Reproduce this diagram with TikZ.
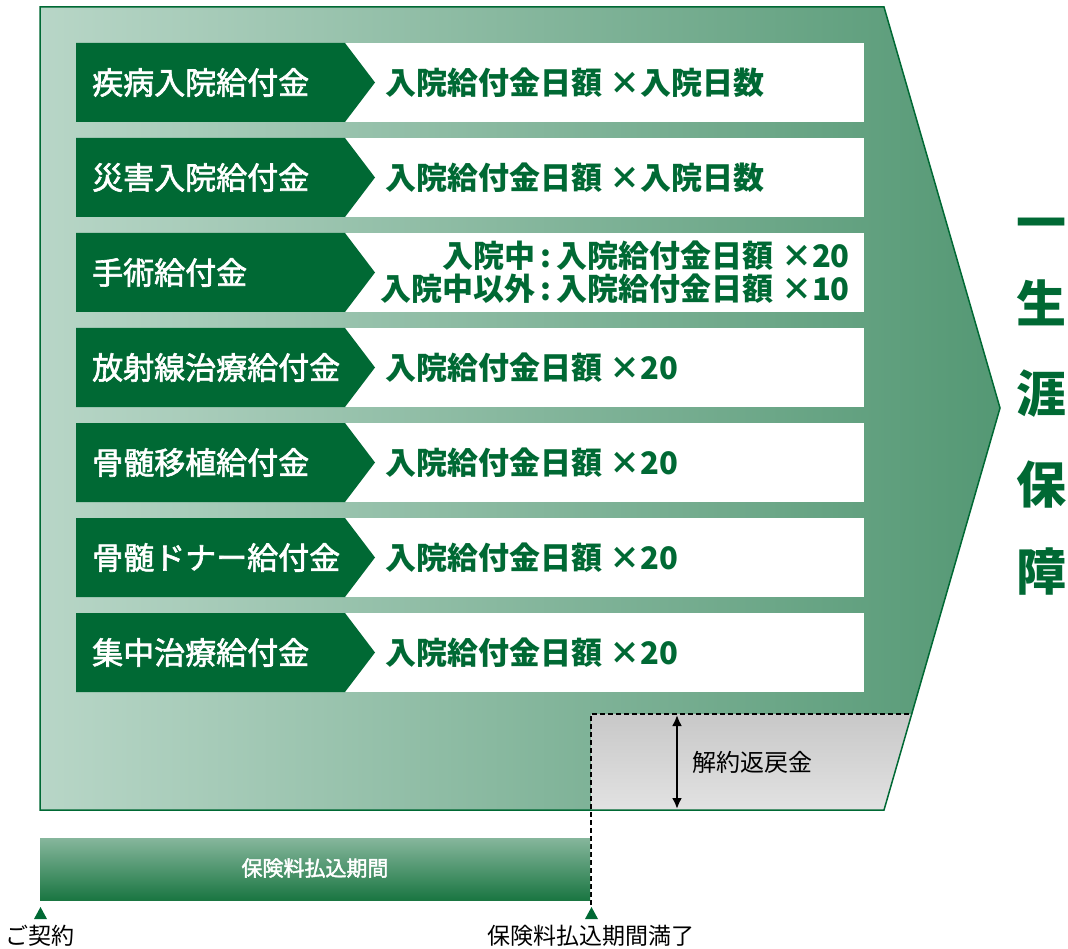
\documentclass[tikz,border=0pt]{standalone}
\usepackage{fontspec}
\setmainfont{Noto Sans CJK JP}
\newfontfamily\lblfont[FakeBold=2]{Noto Sans CJK JP}
\usetikzlibrary{arrows.meta}
\definecolor{dg}{RGB}{0,105,52}
\definecolor{gl}{RGB}{184,214,199}
\definecolor{gr}{RGB}{84,152,116}
\definecolor{gy1}{RGB}{200,200,200}
\definecolor{gy2}{RGB}{226,226,226}
\definecolor{bartop}{RGB}{134,182,156}
\definecolor{barbot}{RGB}{26,118,66}
\tikzset{
  lbl/.style={anchor=west,inner sep=0pt,text=white,font=\lblfont\fontsize{31}{33}\selectfont},
  val/.style={anchor=west,inner sep=0pt,text=dg,font=\bfseries\fontsize{31}{33}\selectfont},
  vert/.style={inner sep=0pt,text=dg,font=\bfseries\fontsize{50}{50}\selectfont},
  small/.style={inner sep=0pt,text=black,font=\fontsize{23}{25}\selectfont},
  tri/.style={fill=dg},
}
\begin{document}
\begin{tikzpicture}[x=1pt,y=-1pt]
\useasboundingbox (0,0) rectangle (1068,949);
% big arrow shape
\shade[left color=gl,right color=gr] (40,7) -- (884,7) -- (1000,408) -- (884,810) -- (40,810) -- cycle;
% grey surrender value area
\shade[top color=gy1,bottom color=gy2] (591,714) -- (912,714) -- (884,810) -- (591,810) -- cycle;
\draw[dg,line width=1.5pt] (40,7) -- (884,7) -- (1000,408) -- (884,810) -- (40,810) -- cycle;
% rows
\foreach \i/\l/\v in {0/疾病入院給付金/入院給付金日額 ×入院日数,
                      1/災害入院給付金/入院給付金日額 ×入院日数,
                      2/手術給付金/,
                      3/放射線治療給付金/入院給付金日額 ×20,
                      4/骨髄移植給付金/入院給付金日額 ×20,
                      5/骨髄ドナー給付金/入院給付金日額 ×20,
                      6/集中治療給付金/入院給付金日額 ×20}{
  \pgfmathsetmacro\t{43+95*\i}
  \pgfmathsetmacro\b{\t+79}
  \pgfmathsetmacro\m{\t+39.5}
  \fill[white] (76,\t) rectangle (864,\b);
  \fill[dg] (76,\t) -- (345,\t) -- (375,\m) -- (345,\b) -- (76,\b) -- cycle;
  \node[lbl] (l\i) at (92,\m) {\l};
  \node[val] (v\i) at (385,\m) {\v};
}
\node[val,anchor=east,align=right] (v2b) at (850,272) {入院中\,:\,入院給付金日額 ×20\\入院中以外\,:\,入院給付金日額 ×10};
% vertical text
\node[vert] (c1) at (1041,230) {一};
\node[vert] (c2) at (1041,303) {生};
\node[vert] (c3) at (1041,394) {涯};
\node[vert] (c4) at (1041,485) {保};
\node[vert] (c5) at (1041,572) {障};
% dashed boundary
\coordinate (dtop) at (591,714);
\coordinate (dbot) at (591,905);
\coordinate (dright) at (912,714);
\draw[black,line width=1.8pt,dash pattern=on 5pt off 3pt] (dbot) -- (dtop) -- (dright);
% double arrow
\coordinate (atop) at (677,715);
\coordinate (abot) at (677,809);
\draw[{Latex[length=11pt,width=10pt]}-{Latex[length=11pt,width=10pt]},line width=2.8pt] (atop) -- (abot);
\node[small,anchor=west,font=\fontsize{24}{26}\selectfont] (kai) at (692,762) {解約返戻金};
% premium payment bar
\shade[top color=bartop,bottom color=barbot] (40,838) rectangle (590,900);
\node[inner sep=0pt,text=white,font=\lblfont\fontsize{21}{23}\selectfont] (bar) at (315,868) {保険料払込期間};
% triangles
\fill[tri] (34,919) -- (47,919) -- (40.5,907) -- cycle;
\fill[tri] (585,919) -- (598,919) -- (591.5,907) -- cycle;
\node[small] (start) at (40,936) {ご契約};
\node[small] (end) at (591,936) {保険料払込期間満了};
\end{tikzpicture}
\end{document}
